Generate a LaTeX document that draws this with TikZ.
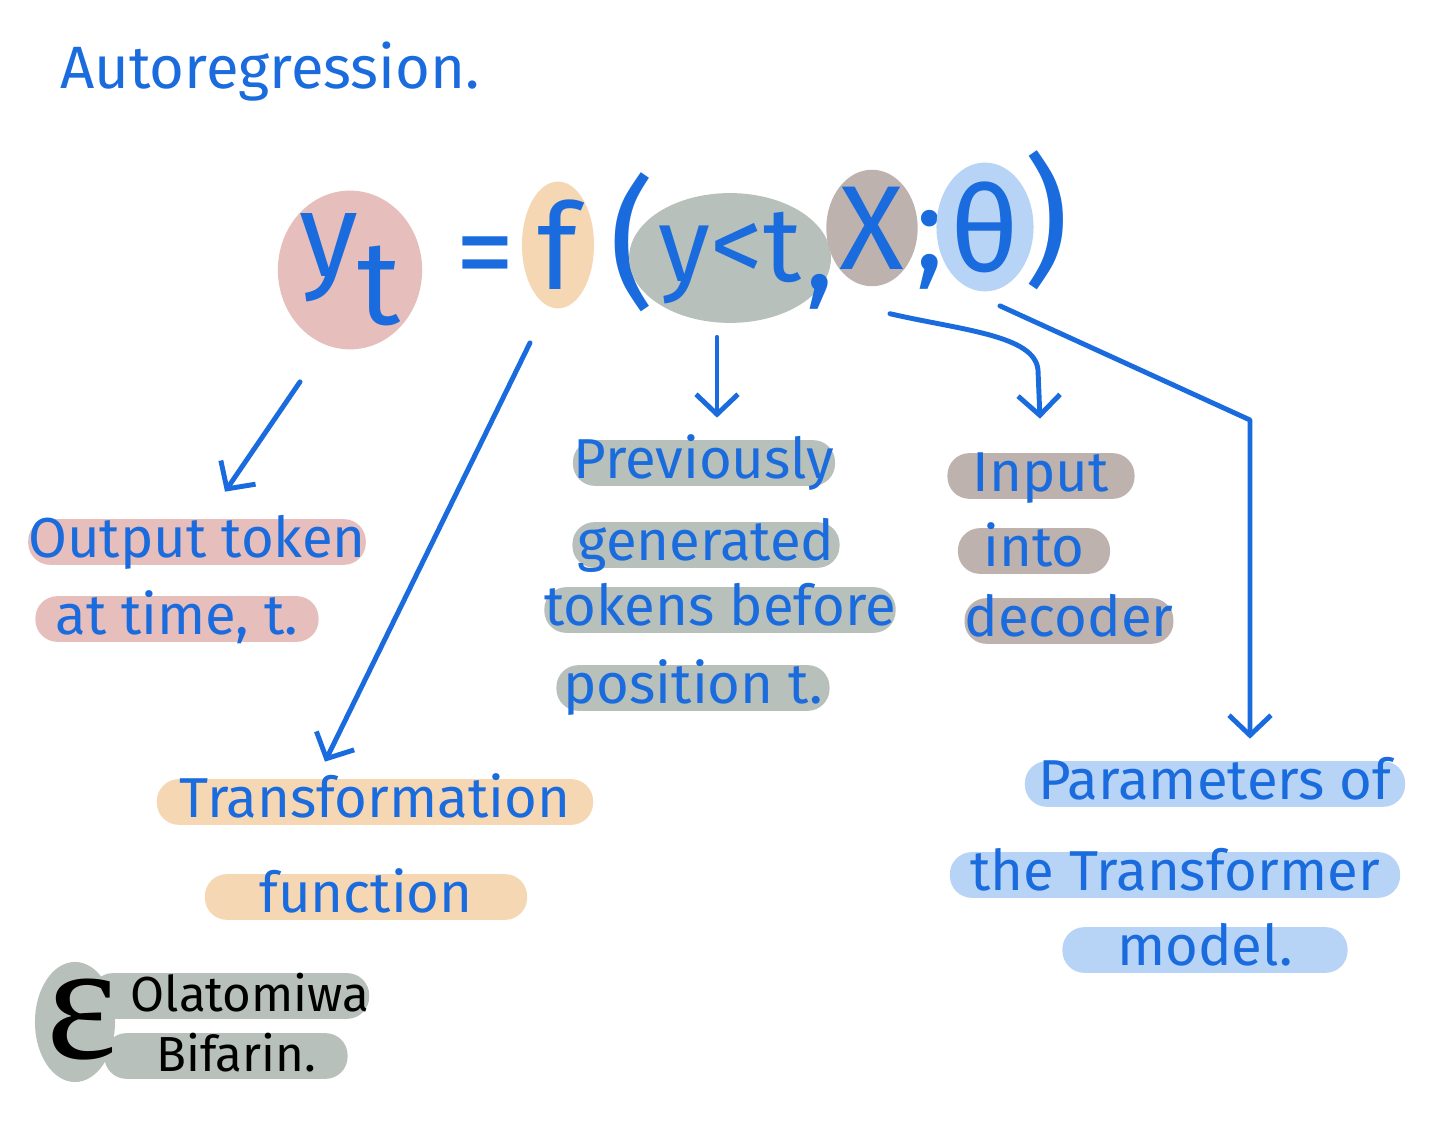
\documentclass[tikz,border=0pt]{standalone}
\usepackage{fontspec}
\setsansfont{Fira Sans}
\newfontfamily\formfont{Fira Sans}
\newfontfamily\sigfont{Liberation Serif}
\usetikzlibrary{arrows.meta,positioning,calc,shapes.geometric,shapes.misc}
\definecolor{cInk}{HTML}{1A6BDD}
\definecolor{cRose}{HTML}{E6BEBB}
\definecolor{cPeach}{HTML}{F6D7B3}
\definecolor{cSage}{HTML}{B7C0BA}
\definecolor{cTaupe}{HTML}{BDB2AD}
\definecolor{cSky}{HTML}{B7D4F6}
\newcommand{\hand}{\sffamily\fontsize{16}{18}\selectfont}
\newcommand{\formula}{\formfont\fontsize{34}{38}\selectfont}
\tikzset{
  every picture/.style={line width=1.4pt},
  blob/.style={ellipse, inner sep=0pt, text=cInk, font=\formula},
  sym/.style={inner sep=0pt, text=cInk, font=\formula},
  hl/.style={rectangle, rounded corners=2.2mm, inner xsep=0pt, inner ysep=0pt,
             minimum height=0.45cm, text height=11pt, text depth=2pt, text=cInk, font=\hand},
  rbar/.style={hl, fill=cRose},
  obar/.style={hl, fill=cPeach},
  gbar/.style={hl, fill=cSage},
  tbar/.style={hl, fill=cTaupe},
  bbar/.style={hl, fill=cSky},
  sbar/.style={hl, fill=cSage, text=black, font=\sffamily\fontsize{14}{16}\selectfont},
  arr/.style={draw=cInk, line cap=round, line join=round,
              -{Straight Barb[length=2mm,width=4.2mm,line width=1.4pt]}},
}

\begin{document}
\begin{tikzpicture}[x=0.01cm,y=-0.01cm]
\fill[white] (0,0) rectangle (1456,1125);
\useasboundingbox (0,0) rectangle (1456,1125);

% title
\node[text=cInk, font=\sffamily\fontsize{17}{19}\selectfont] (title) at (270,72) {Autoregression.};

% the formula
\node[blob, fill=cRose, minimum width=1.25cm, minimum height=1.55cm] (yt) at (350,270) {y\raisebox{-0.4em}{t}};
\node[sym] (eq) at (485,265) {=};
\node[blob, fill=cPeach, minimum width=0.72cm, minimum height=1.25cm] (fn) at (558,245) {f};
\node[sym, font=\formfont\fontsize{40}{44}\selectfont] (lpar) at (632,242) {(};
\node[blob, fill=cSage, minimum width=1.5cm, minimum height=1.05cm, font=\formfont\fontsize{30}{34}\selectfont] (prev) at (730,258) {y<t};
\node[sym] (comma) at (820,292) {,};
\node[blob, fill=cTaupe, minimum width=0.62cm, minimum height=0.88cm] (inp) at (872,228) {X};
\node[sym] (semi) at (930,250) {;};
\node[blob, fill=cSky, minimum width=0.58cm, minimum height=0.95cm] (par) at (985,227) {θ};
\node[sym, font=\formfont\fontsize{40}{44}\selectfont] (rpar) at (1046,220) {)};

% labels
\node[rbar, minimum width=3.25cm] (out1) at (197,542) {Output token};
\node[rbar, minimum width=2.83cm] (out2) at (177,619) {at time, t.};

\node[gbar, minimum width=2.62cm] (prev1) at (704,463) {Previously};
\node[gbar, minimum width=2.67cm] (prev2) at (706,545) {generated};
\node[gbar, minimum width=3.0cm] (prev3) at (720,610) {tokens before};
\node[gbar, minimum width=2.73cm] (prev4) at (693,688) {position t.};

\node[tbar, minimum width=1.87cm] (inp1) at (1041,476) {Input};
\node[tbar, minimum width=1.52cm] (inp2) at (1034,551) {into};
\node[tbar, minimum width=1.82cm] (inp3) at (1069,621) {decoder};

\node[obar, minimum width=4.36cm] (tf1) at (375,802) {Transformation};
\node[obar, minimum width=3.22cm] (tf2) at (366,897) {function};

\node[bbar, minimum width=3.8cm] (par1) at (1215,784) {Parameters of};
\node[bbar, minimum width=4.5cm] (par2) at (1175,875) {the Transformer};
\node[bbar, minimum width=2.85cm] (par3) at (1205,950) {model.};

% arrows
\draw[arr] ([shift={(-50,30)}]yt.south) -- ([shift={(28,-25)}]out1.north);
\draw[arr] ([shift={(-28,32)}]fn.south) -- ([shift={(-50,-15)}]tf1.north);
\draw[arr] ([shift={(-13,12)}]prev.south) -- ([shift={(13,-20)}]prev1.north);
\coordinate (inpbend) at (1038,370);
\draw[arr] ([shift={(18,25)}]inp.south) .. controls (960,330) and (1035,335) .. (inpbend)
      -- ([shift={(-1,-32)}]inp1.north);
\coordinate (parbend) at (1250,420);
\draw[arr] ([shift={(15,12)}]par.south) -- (parbend) -- ([shift={(35,-20)}]par1.north);

% signature
\node[sbar, minimum width=2.5cm] (sig1) at (230,996) {\hspace{4mm}Olatomiwa};
\node[sbar, minimum width=2.43cm] (sig2) at (226,1056) {\hspace{2mm}Bifarin.};
\node[ellipse, fill=cSage, minimum width=0.8cm, minimum height=1.2cm, inner sep=0pt] (sigblob) at (75,1022) {};
\node[inner sep=0pt, font=\sigfont\fontsize{48}{52}\selectfont] (sigE) at (82,1020) {ε};

\end{tikzpicture}
\end{document}
